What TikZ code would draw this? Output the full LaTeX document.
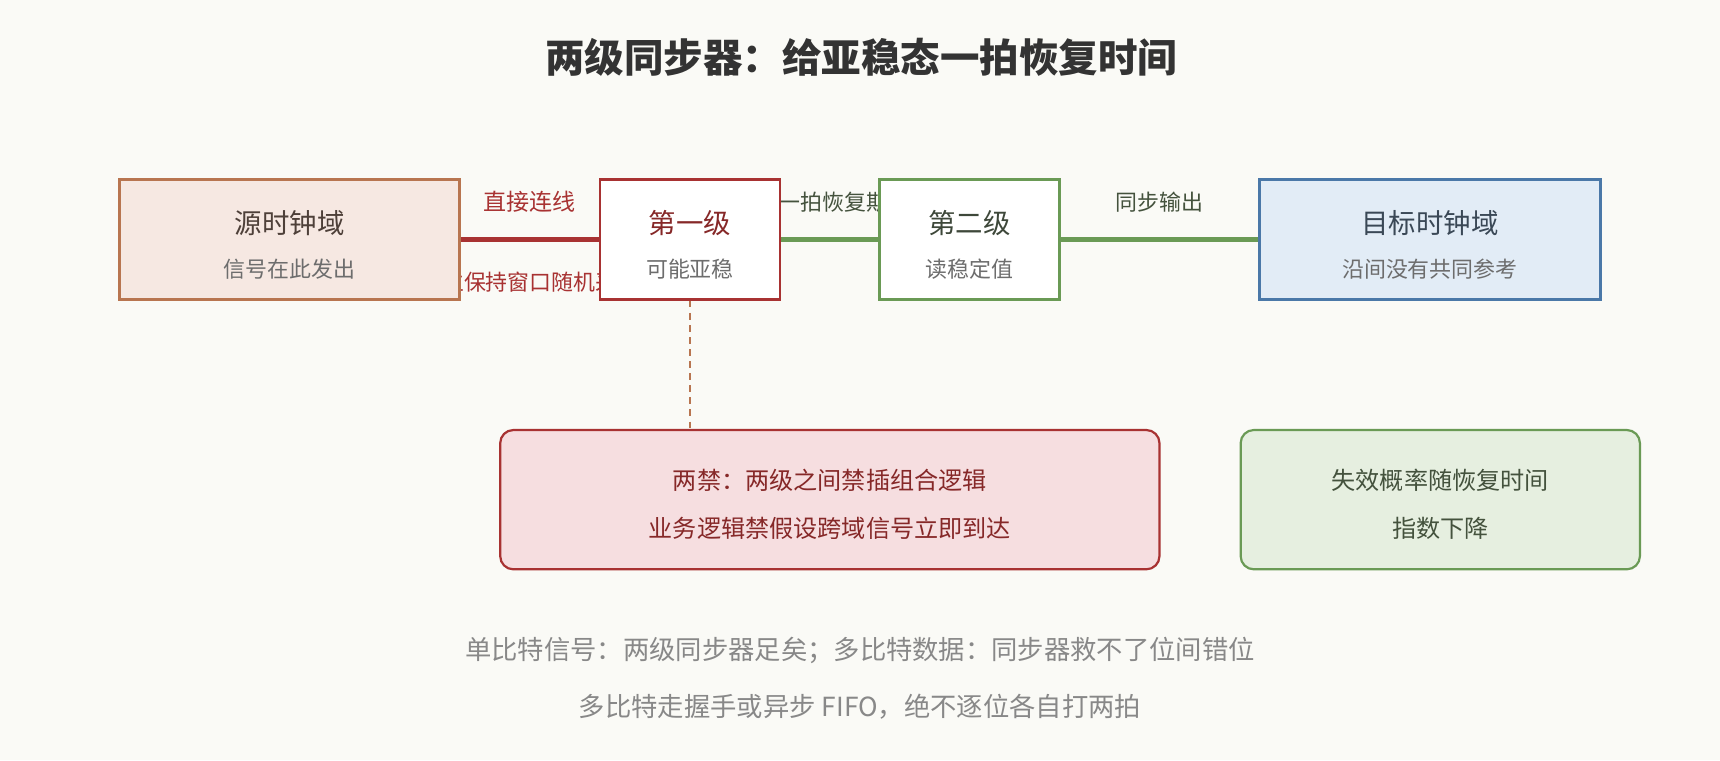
\documentclass[tikz,border=0pt]{standalone}
\usepackage{fontspec}
\setmainfont{Noto Sans CJK SC}
\usetikzlibrary{positioning}
\definecolor{bgc}{HTML}{FAFAF6}
\definecolor{srcc}{HTML}{B87550}
\definecolor{srcf}{HTML}{F6E8E2}
\definecolor{redc}{HTML}{A83232}
\definecolor{redf}{HTML}{F6DEE0}
\definecolor{grnc}{HTML}{6A9A55}
\definecolor{grnf}{HTML}{E6EFE0}
\definecolor{bluc}{HTML}{4A78A8}
\definecolor{bluf}{HTML}{E2ECF6}
\definecolor{txtc}{HTML}{333333}
\definecolor{subc}{HTML}{888888}
\tikzset{%
    stage/.style={draw, line width=2.6pt, minimum height=109pt, inner sep=0pt},
    note/.style={draw, line width=2pt, rounded corners=12pt, minimum height=127pt, inner sep=0pt}
}
\tikzset{wire/.style={line width=4pt}}
\begin{document}
\begin{tikzpicture}[x=1pt,y=-1pt]
		% canvas
		\fill[bgc] (0,0) rectangle (1568,693);
		\useasboundingbox (0,0) rectangle (1568,693);

		\node[font=\bfseries\fontsize{36}{40}\selectfont, text=txtc] (title) at (785,52) {两级同步器：给亚稳态一拍恢复时间};

		% labels under the boxes
		\node[font=\fontsize{21}{24}\selectfont, text=redc] (lab1) at (483,184) {直接连线};
		\node[font=\fontsize{20}{24}\selectfont, text=redc] (lab2) at (483,257) {建立保持窗口随机采样};
		\node[font=\fontsize{20}{24}\selectfont, text=txtc!70!grnc] (lab3) at (760,184) {一拍恢复期};
		\node[font=\fontsize{20}{24}\selectfont, text=txtc!70!grnc] (lab4) at (1057,184) {同步输出};

		% boxes
		\node[stage, draw=srcc, fill=srcf, minimum width=310pt] (src) at (264,218.5) {};
		\node[stage, draw=redc, fill=white, minimum width=164pt] (ff1) at (629,218.5) {};
		\node[stage, draw=grnc, fill=white, minimum width=164pt] (ff2) at (884,218.5) {};
		\node[stage, draw=bluc, fill=bluf, minimum width=311pt] (dst) at (1303.5,218.5) {};

		\draw[wire, redc] (src.east) -- (ff1.west);
		\draw[wire, grnc] (ff1.east) -- (ff2.west);
		\draw[wire, grnc] (ff2.east) -- (dst.west);

		\foreach \n/\a/\b/\c in {src/源时钟域/信号在此发出/txtc!80!srcc, ff1/第一级/可能亚稳/redc!80!black, ff2/第二级/读稳定值/txtc!80!grnc, dst/目标时钟域/沿间没有共同参考/txtc!70!bluc} {
			\node[font=\fontsize{25}{28}\selectfont, text=\c] (\n-t) at ([yshift=15pt]\n.center) {\a};
			\node[font=\fontsize{20}{24}\selectfont, text=subc!80!black] (\n-s) at ([yshift=-27pt]\n.center) {\b};
		}
		\node[note, draw=redc, fill=redf, minimum width=601pt] (warn) at (756.5,455.5) {};
		\node[note, draw=grnc, fill=grnf, minimum width=364pt] (prob) at (1313,455.5) {};
		\draw[srcc, line width=2pt, dash pattern=on 6pt off 5pt] (ff1.south) -- (warn.north -| ff1.south);

		\node[font=\fontsize{22}{26}\selectfont, text=redc!80!black] (warn-a) at ([yshift=18pt]warn.center) {两禁：两级之间禁插组合逻辑};
		\node[font=\fontsize{22}{26}\selectfont, text=redc!80!black] (warn-b) at ([yshift=-26pt]warn.center) {业务逻辑禁假设跨域信号立即到达};
		\node[font=\fontsize{22}{26}\selectfont, text=txtc!70!grnc] (prob-a) at ([yshift=18pt]prob.center) {失效概率随恢复时间};
		\node[font=\fontsize{22}{26}\selectfont, text=txtc!70!grnc] (prob-b) at ([yshift=-26pt]prob.center) {指数下降};

		\node[font=\fontsize{24}{28}\selectfont, text=subc] (foot1) at (784,593) {单比特信号：两级同步器足矣；多比特数据：同步器救不了位间错位};
		\node[font=\fontsize{24}{28}\selectfont, text=subc] (foot2) at (784,644) {多比特走握手或异步 FIFO，绝不逐位各自打两拍};
	\end{tikzpicture}
\end{document}
